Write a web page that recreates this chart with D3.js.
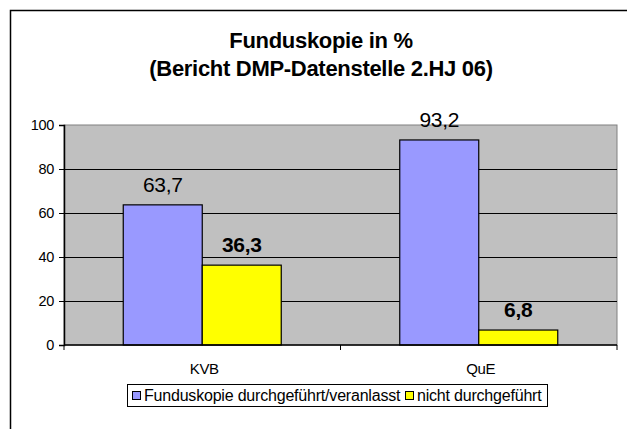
<!DOCTYPE html>
<html>
<head>
<meta charset="utf-8">
<script src="https://cdn.jsdelivr.net/npm/d3@7"></script>
<style>
  body { margin: 0; background: #fff; }
  text { font-family: "Liberation Sans", Arial, sans-serif; }
</style>
</head>
<body>
<svg width="627" height="429"></svg>
<script>
var categories = ["KVB", "QuE"];
var seriesNames = ["Funduskopie durchgeführt/veranlasst", "nicht durchgeführt"];
var durchgefuehrt = [63.7, 93.2];
var nichtDurchgefuehrt = [36.3, 6.8];
var yTicks = [0, 20, 40, 60, 80, 100];

var colors = ["#9999FF", "#FFFF00"];
var svg = d3.select("svg");

// outer chart frame (cut off at right/bottom like the source)
svg.append("path").attr("d", "M10.5,440 L10.5,10.5 L640,10.5")
   .attr("fill", "none").attr("stroke", "#000").attr("stroke-width", 1.5);

var pLeft = 64, pRight = 617, pTop = 125, pBottom = 345;

var x = d3.scaleBand().domain(categories).range([pLeft, pRight]);
var y = d3.scaleLinear().domain([0, 100]).range([pBottom, pTop]);

svg.append("rect").attr("x", pLeft).attr("y", pTop)
   .attr("width", pRight - pLeft).attr("height", pBottom - pTop)
   .attr("fill", "#C0C0C0").attr("stroke", "#808080").attr("stroke-width", 1);

// gridlines
svg.selectAll("line.grid").data(yTicks.filter(function(d){ return d > 0 && d < 100; }))
   .enter().append("line").attr("class", "grid")
   .attr("x1", pLeft).attr("x2", pRight)
   .attr("y1", function(d){ return Math.round(y(d)) + 0.5; })
   .attr("y2", function(d){ return Math.round(y(d)) + 0.5; })
   .attr("stroke", "#000").attr("stroke-width", 1);

// bars
var barW = x.bandwidth() / 3.5;
var data = [];
categories.forEach(function(c, i){
  data.push({cat: c, s: 0, v: durchgefuehrt[i]});
  data.push({cat: c, s: 1, v: nichtDurchgefuehrt[i]});
});

svg.selectAll("rect.bar").data(data).enter().append("rect").attr("class", "bar")
   .attr("x", function(d){ return x(d.cat) + x.bandwidth()/2 - barW + d.s * barW; })
   .attr("y", function(d){ return y(d.v); })
   .attr("width", barW)
   .attr("height", function(d){ return y(0) - y(d.v); })
   .attr("fill", function(d){ return colors[d.s]; })
   .attr("stroke", "#000").attr("stroke-width", 1.2);

// value labels
svg.selectAll("text.val").data(data).enter().append("text").attr("class", "val")
   .attr("x", function(d){ return x(d.cat) + x.bandwidth()/2 - barW/2 + d.s * barW; })
   .attr("y", function(d){ return y(d.v) - 13; })
   .attr("text-anchor", "middle")
   .attr("font-size", "21px")
   .attr("letter-spacing", "-0.3px")
   .attr("font-weight", function(d){ return d.s === 1 ? "bold" : "normal"; })
   .text(function(d){ return String(d.v).replace(".", ","); });

// axes
var yAxis = d3.axisLeft(y).tickValues(yTicks).tickSize(5).tickPadding(5);
var gy = svg.append("g").attr("transform", "translate(" + pLeft + ",0)").call(yAxis);
gy.select(".domain").attr("stroke", "#000").attr("stroke-width", 1.5);
gy.selectAll("text").attr("font-size", "14.5px").attr("letter-spacing", "-0.3px")
  .attr("font-family", "Liberation Sans, Arial, sans-serif").attr("fill", "#000");

var gx = svg.append("g").attr("transform", "translate(0," + pBottom + ")");
gx.append("line").attr("x1", pLeft).attr("x2", pRight).attr("y1", 0).attr("y2", 0)
  .attr("stroke", "#000").attr("stroke-width", 1.5);
gx.selectAll("line.tk").data([0, 1, 2]).enter().append("line").attr("class", "tk")
  .attr("x1", function(d){ return pLeft + d * x.step(); })
  .attr("x2", function(d){ return pLeft + d * x.step(); })
  .attr("y1", 0).attr("y2", 5).attr("stroke", "#000");
gx.selectAll("text").data(categories).enter().append("text")
  .attr("x", function(d){ return x(d) + x.bandwidth()/2 + 2; })
  .attr("y", 29).attr("text-anchor", "middle")
  .attr("font-size", "15px").attr("letter-spacing", "-0.3px")
  .text(function(d){ return d; });

// title
var title = svg.append("text").attr("text-anchor", "middle")
   .attr("font-size", "22px").attr("font-weight", "bold").attr("letter-spacing", "-0.3px");
title.append("tspan").attr("x", 321).attr("y", 48).text("Funduskopie in %");
title.append("tspan").attr("x", 321).attr("y", 76).text("(Bericht DMP-Datenstelle 2.HJ 06)");

// legend
var lg = svg.append("g");
lg.append("rect").attr("x", 127.5).attr("y", 384.5).attr("width", 420).attr("height", 22)
  .attr("fill", "#fff").attr("stroke", "#000");
var legX = [132, 405];
seriesNames.forEach(function(n, i){
  lg.append("rect").attr("x", legX[i] + 0.5).attr("y", 391.5).attr("width", 8).attr("height", 8)
    .attr("fill", colors[i]).attr("stroke", "#000");
  lg.append("text").attr("x", legX[i] + 12).attr("y", 401)
    .attr("font-size", "16px").attr("letter-spacing", "-0.2px").text(n);
});
</script>
</body>
</html>
